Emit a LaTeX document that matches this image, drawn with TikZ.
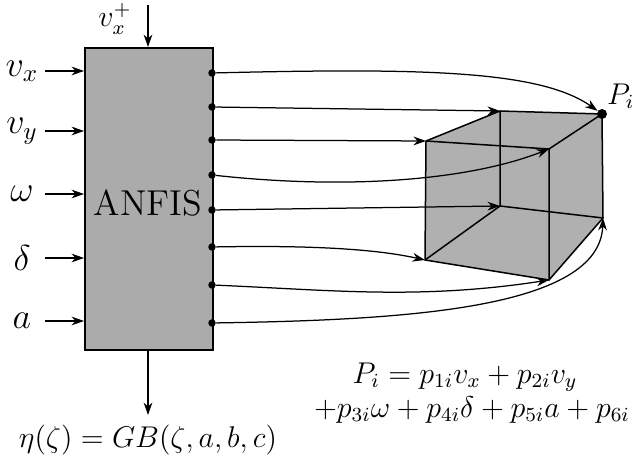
\documentclass[tikz,border=0pt]{standalone}
\usetikzlibrary{arrows.meta}
\begin{document}
\begin{tikzpicture}[x=0.4pt,y=-0.4pt,
  arr/.style={-{Stealth[length=5pt,width=3.5pt]},line width=0.5pt},
  dot/.style={circle,fill,inner sep=0pt,minimum size=3pt},
  edge/.style={line width=0.6pt},
  lab/.style={font=\large}]
\useasboundingbox (0,0) rectangle (640,457);
\node[draw,line width=0.7pt,fill=black!33,minimum width=128*0.4pt,minimum height=302*0.4pt,anchor=north west,inner sep=0pt] (box) at (84,47) {};
\node[font=\Large] (anf) at (148,203) {ANFIS};
% cube
\coordinate (B1) at (500,111); \coordinate (P) at (602,114);
\coordinate (F1) at (426,141); \coordinate (F2) at (549,149);
\coordinate (B3) at (500,206); \coordinate (B4) at (603,218);
\coordinate (F3) at (425,260); \coordinate (F4) at (549,280);
\fill[black!31] (F1) -- (B1) -- (P) -- (B4) -- (F4) -- (F3) -- cycle;
\draw[edge] (B1) -- (B3) -- (B4); \draw[edge] (B3) -- (F3);
\draw[edge] (F1) -- (B1) -- (P) -- (B4) -- (F4) -- (F3) -- cycle;
\draw[edge] (F1) -- (F2) -- (F4); \draw[edge] (F2) -- (P);
\node[circle,fill,inner sep=0pt,minimum size=4pt] (Pd) at (P) {};
\node[lab,anchor=south west,inner sep=1pt] (Pl) at (604,112) {$P_i$};
% dots
\foreach \i/\y in {1/73,2/107,3/140,4/175,5/210,6/247,7/285,8/323}
  \node[dot] (d\i) at (212,\y) {};
\draw[arr] (d1) .. controls (420,68) and (540,70) .. (Pd);
\draw[arr] (d2) -- (B1);
\draw[arr] (d3) -- (F1);
\draw[arr] (d4) .. controls (350,190) and (470,180) .. (F2);
\draw[arr] (d5) -- (B3);
\draw[arr] (d6) .. controls (320,245) and (380,250) .. (F3);
\draw[arr] (d7) .. controls (330,290) and (420,300) .. (F4);
\draw[arr] (d8) .. controls (400,320) and (600,310) .. (B4);
% inputs
\foreach \i/\y/\t in {1/71/v_x,2/131/v_y,3/194/\omega,4/258/\delta,5/321/a}{
  \node[font=\Large] (in\i) at (22,\y) {$\t$};
  \coordinate (ie\i) at (84,\y);
  \draw[arr] (45,\y) -- (ie\i);}
\coordinate (top) at (148,5);
\draw[arr] (top) -- (box.north -| top);
\node[lab,inner sep=0pt] (vp) at (115,19) {$v_x^+$};
\coordinate (bot) at (148,415);
\draw[arr] (box.south -| bot) -- (bot);
\node[lab] (eta) at (148,440) {$\eta(\zeta)=GB(\zeta,a,b,c)$};
\node[lab] (eq1) at (465,377) {$P_i=p_{1i}v_x+p_{2i}v_y$};
\node[lab] (eq2) at (472,410) {$+p_{3i}\omega+p_{4i}\delta+p_{5i}a+p_{6i}$};
\end{tikzpicture}
\end{document}
